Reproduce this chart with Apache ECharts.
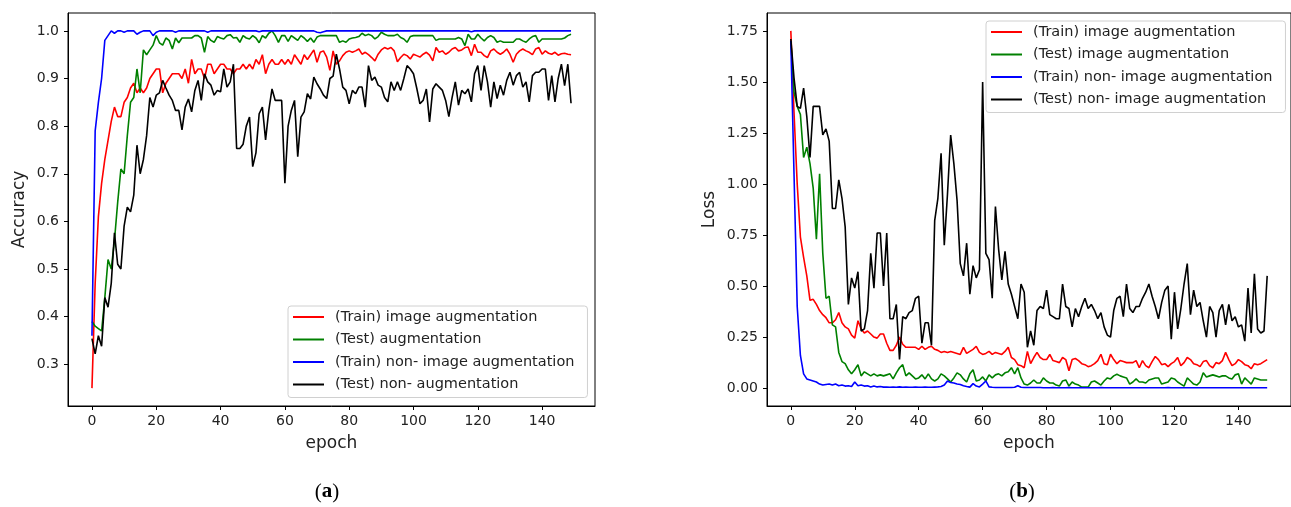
<!DOCTYPE html>
<html>
<head>
<meta charset="utf-8">
<script src="https://cdn.jsdelivr.net/npm/echarts@6/dist/echarts.min.js"></script>
<style>
  html, body { margin: 0; padding: 0; background: #fff; }
  #main { width: 1291px; height: 507px; }
</style>
</head>
<body>
<div id="main"></div>
<script>
// (a) accuracy per epoch
var accTrainAug = [
  0.25, 0.47, 0.61, 0.68, 0.73, 0.77, 0.81, 0.84, 0.82, 0.82,
  0.85, 0.86, 0.88, 0.89, 0.87, 0.88, 0.87, 0.88, 0.90, 0.91,
  0.92, 0.92, 0.87, 0.89, 0.90, 0.91, 0.91, 0.91, 0.90, 0.92,
  0.89, 0.94, 0.91, 0.92, 0.92, 0.90, 0.93, 0.93, 0.91, 0.92,
  0.93, 0.93, 0.92, 0.92, 0.91, 0.92, 0.92, 0.93, 0.92, 0.93,
  0.92, 0.94, 0.93, 0.95, 0.91, 0.93, 0.94, 0.93, 0.93, 0.94,
  0.93, 0.94, 0.93, 0.95, 0.94, 0.93, 0.95, 0.94, 0.95, 0.96,
  0.934, 0.955, 0.958, 0.945, 0.917, 0.958, 0.930, 0.937, 0.948, 0.955,
  0.958, 0.955, 0.958, 0.962, 0.951, 0.955, 0.950, 0.944, 0.937, 0.951,
  0.960, 0.965, 0.962, 0.965, 0.958, 0.935, 0.944, 0.951, 0.948, 0.941,
  0.951, 0.948, 0.945, 0.951, 0.955, 0.949, 0.937, 0.965, 0.955, 0.958,
  0.951, 0.955, 0.962, 0.965, 0.958, 0.960, 0.965, 0.966, 0.948, 0.972,
  0.955, 0.955, 0.948, 0.944, 0.958, 0.962, 0.955, 0.951, 0.955, 0.962,
  0.951, 0.934, 0.951, 0.958, 0.962, 0.958, 0.955, 0.950, 0.962, 0.965,
  0.951, 0.958, 0.953, 0.951, 0.955, 0.949, 0.952, 0.953, 0.951, 0.950
];
var accTestAug = [
  0.39, 0.38, 0.375, 0.37, 0.44, 0.52, 0.50, 0.56, 0.64, 0.71,
  0.70, 0.78, 0.85, 0.86, 0.92, 0.87, 0.96, 0.95, 0.96, 0.97,
  0.99, 0.975, 0.97, 0.985, 0.98, 0.962, 0.985, 0.975, 0.985, 0.985,
  0.985, 0.985, 0.99, 0.99, 0.985, 0.955, 0.988, 0.98, 0.976, 0.988,
  0.985, 0.983, 0.99, 0.992, 0.985, 0.986, 0.976, 0.99, 0.985, 0.983,
  0.99, 0.985, 0.975, 0.99, 0.985, 0.995, 1.0, 0.99, 0.976, 0.99,
  0.99, 0.978, 0.99, 0.985, 0.98, 0.99, 0.985, 0.978, 0.985, 0.976,
  0.987, 0.990, 0.990, 0.990, 0.990, 0.990, 0.990, 0.976, 0.979, 0.976,
  0.983, 0.985, 0.986, 0.988, 0.995, 0.990, 0.993, 0.990, 0.983, 0.988,
  0.997, 0.993, 0.990, 0.990, 0.990, 0.993, 0.986, 0.983, 0.976, 0.988,
  0.990, 0.990, 0.990, 0.990, 0.990, 0.990, 0.990, 0.980, 0.983, 0.983,
  0.983, 0.983, 0.983, 0.983, 0.986, 0.983, 0.969, 0.993, 0.983, 0.983,
  0.993, 0.985, 0.979, 0.986, 0.990, 0.986, 0.976, 0.979, 0.976, 0.976,
  0.976, 0.976, 0.983, 0.983, 0.979, 0.976, 0.983, 0.988, 0.990, 0.976,
  0.983, 0.983, 0.983, 0.983, 0.983, 0.983, 0.983, 0.985, 0.990, 0.993
];
var accTrainNon = [
  0.36, 0.79, 0.85, 0.90, 0.98, 0.99, 1.0, 0.995, 1.0, 1.0,
  0.997, 1.0, 1.0, 1.0, 0.993, 0.997, 1.0, 1.0, 1.0, 0.99,
  0.997, 1.0, 1.0, 1.0, 1.0, 1.0, 0.997, 1.0, 1.0, 1.0,
  1.0, 1.0, 1.0, 1.0, 1.0, 1.0, 0.997, 1.0, 1.0, 1.0,
  1.0, 1.0, 1.0, 1.0, 1.0, 1.0, 1.0, 1.0, 1.0, 1.0,
  1.0, 1.0, 0.998, 1.0, 1.0, 1.0, 1.0, 1.0, 1.0, 1.0,
  1.0, 1.0, 1.0, 1.0, 1.0, 1.0, 1.0, 1.0, 1.0, 1.0,
  0.997, 0.996, 0.998, 1.0, 1.0, 1.0, 1.0, 1.0, 1.0, 1.0,
  1.0, 1.0, 1.0, 1.0, 1.0, 1.0, 1.0, 1.0, 1.0, 1.0,
  1.0, 1.0, 1.0, 1.0, 1.0, 1.0, 1.0, 1.0, 1.0, 1.0,
  1.0, 1.0, 1.0, 1.0, 1.0, 1.0, 1.0, 1.0, 1.0, 1.0,
  1.0, 1.0, 1.0, 1.0, 1.0, 1.0, 1.0, 1.0, 0.998, 1.0,
  1.0, 1.0, 1.0, 1.0, 1.0, 1.0, 1.0, 1.0, 1.0, 1.0,
  1.0, 1.0, 1.0, 1.0, 1.0, 1.0, 1.0, 1.0, 1.0, 1.0,
  1.0, 1.0, 1.0, 1.0, 1.0, 1.0, 1.0, 1.0, 1.0, 1.0
];
var accTestNon = [
  0.354, 0.322, 0.36, 0.338, 0.44, 0.42, 0.47, 0.576, 0.51, 0.50,
  0.59, 0.63, 0.62, 0.655, 0.76, 0.70, 0.73, 0.78, 0.86, 0.84,
  0.865, 0.87, 0.896, 0.88, 0.865, 0.854, 0.833, 0.833, 0.792, 0.84,
  0.857, 0.83, 0.875, 0.896, 0.854, 0.91, 0.893, 0.886, 0.865, 0.875,
  0.872, 0.92, 0.882, 0.893, 0.93, 0.753, 0.753, 0.762, 0.80, 0.819,
  0.715, 0.744, 0.826, 0.84, 0.771, 0.833, 0.878, 0.854, 0.854, 0.854,
  0.68, 0.80, 0.833, 0.854, 0.736, 0.819, 0.83, 0.868, 0.857, 0.903,
  0.889, 0.878, 0.865, 0.858, 0.90, 0.905, 0.951, 0.92, 0.882, 0.875,
  0.847, 0.875, 0.868, 0.882, 0.882, 0.84, 0.927, 0.896, 0.903, 0.886,
  0.882, 0.86, 0.851, 0.893, 0.875, 0.893, 0.875, 0.90, 0.927, 0.92,
  0.91, 0.88, 0.847, 0.854, 0.878, 0.809, 0.878, 0.889, 0.882, 0.875,
  0.854, 0.82, 0.86, 0.893, 0.844, 0.875, 0.868, 0.878, 0.851, 0.91,
  0.927, 0.875, 0.927, 0.893, 0.84, 0.893, 0.858, 0.886, 0.865, 0.896,
  0.913, 0.886, 0.906, 0.913, 0.882, 0.893, 0.851, 0.906, 0.913, 0.913,
  0.92, 0.92, 0.854, 0.906, 0.851, 0.90, 0.93, 0.885, 0.93, 0.848
];

// (b) loss per epoch
var lossTrainAug = [
  1.75, 1.35, 1.0, 0.74, 0.64, 0.55, 0.43, 0.435, 0.41, 0.38,
  0.36, 0.345, 0.32, 0.32, 0.335, 0.37, 0.32, 0.30, 0.29, 0.26,
  0.245, 0.33, 0.29, 0.27, 0.28, 0.265, 0.25, 0.245, 0.265, 0.265,
  0.22, 0.185, 0.185, 0.21, 0.25, 0.215, 0.20, 0.20, 0.20, 0.20,
  0.19, 0.205, 0.19, 0.20, 0.205, 0.19, 0.185, 0.175, 0.18, 0.175,
  0.18, 0.175, 0.17, 0.165, 0.20, 0.17, 0.18, 0.19, 0.205, 0.175,
  0.165, 0.17, 0.18, 0.165, 0.175, 0.17, 0.165, 0.18, 0.20, 0.15,
  0.14, 0.115, 0.11, 0.10, 0.18, 0.12, 0.15, 0.175, 0.15, 0.14,
  0.14, 0.165, 0.135, 0.13, 0.125, 0.15, 0.14, 0.085, 0.14, 0.145,
  0.135, 0.12, 0.115, 0.105, 0.11, 0.12, 0.135, 0.166, 0.12, 0.115,
  0.166, 0.14, 0.12, 0.135, 0.13, 0.125, 0.125, 0.125, 0.135, 0.10,
  0.135, 0.11, 0.10, 0.13, 0.155, 0.14, 0.115, 0.12, 0.105, 0.12,
  0.13, 0.15, 0.11, 0.125, 0.15, 0.14, 0.12, 0.115, 0.105, 0.13,
  0.135, 0.11, 0.10, 0.125, 0.12, 0.135, 0.175, 0.14, 0.11, 0.12,
  0.14, 0.13, 0.115, 0.11, 0.095, 0.12, 0.115, 0.12, 0.13, 0.14
];
var lossTestAug = [
  1.70, 1.45, 1.38, 1.34, 1.13, 1.18, 1.10, 0.98, 0.73, 1.05,
  0.66, 0.44, 0.45, 0.31, 0.30, 0.175, 0.13, 0.12, 0.09, 0.07,
  0.09, 0.115, 0.06, 0.08, 0.07, 0.06, 0.07, 0.06, 0.065, 0.06,
  0.065, 0.07, 0.045, 0.075, 0.10, 0.115, 0.06, 0.075, 0.06, 0.045,
  0.05, 0.065, 0.045, 0.07, 0.045, 0.035, 0.045, 0.07, 0.06, 0.045,
  0.03, 0.05, 0.075, 0.065, 0.045, 0.03, 0.07, 0.09, 0.035, 0.04,
  0.055, 0.035, 0.065, 0.05, 0.065, 0.07, 0.06, 0.075, 0.08, 0.10,
  0.07, 0.10, 0.05, 0.02, 0.015, 0.025, 0.04, 0.025, 0.025, 0.05,
  0.035, 0.025, 0.025, 0.015, 0.01, 0.035, 0.04, 0.01, 0.03, 0.02,
  0.015, 0.005, 0.005, 0.005, 0.03, 0.035, 0.025, 0.015, 0.035, 0.05,
  0.045, 0.06, 0.068, 0.06, 0.055, 0.05, 0.02, 0.03, 0.045, 0.03,
  0.03, 0.025, 0.04, 0.045, 0.05, 0.05, 0.02, 0.025, 0.03, 0.05,
  0.045, 0.03, 0.02, 0.01, 0.05, 0.035, 0.02, 0.015, 0.03, 0.075,
  0.055, 0.06, 0.065, 0.06, 0.055, 0.06, 0.06, 0.05, 0.045, 0.065,
  0.07, 0.02, 0.05, 0.035, 0.02, 0.05, 0.045, 0.04, 0.04, 0.04
];
var lossTrainNon = [
  1.70, 1.05, 0.40, 0.16, 0.07, 0.045, 0.04, 0.035, 0.03, 0.02,
  0.015, 0.018, 0.02, 0.015, 0.02, 0.012, 0.015, 0.01, 0.012, 0.008,
  0.03, 0.012, 0.015, 0.01, 0.012, 0.006, 0.01, 0.006, 0.008, 0.005,
  0.005, 0.004, 0.005, 0.004, 0.006, 0.004, 0.005, 0.004, 0.004, 0.005,
  0.004, 0.004, 0.005, 0.004, 0.004, 0.005, 0.006, 0.008, 0.015, 0.035,
  0.028, 0.025, 0.02, 0.018, 0.012, 0.008, 0.005, 0.022, 0.01, 0.006,
  0.02, 0.035, 0.006, 0.004, 0.003, 0.003, 0.003, 0.003, 0.003, 0.003,
  0.004, 0.012, 0.004, 0.003, 0.003, 0.003, 0.003, 0.003, 0.003, 0.002,
  0.002, 0.002, 0.003, 0.002, 0.002, 0.002, 0.002, 0.003, 0.002, 0.002,
  0.002, 0.002, 0.002, 0.002, 0.002, 0.002, 0.002, 0.003, 0.002, 0.002,
  0.002, 0.002, 0.002, 0.002, 0.002, 0.002, 0.002, 0.002, 0.002, 0.002,
  0.002, 0.002, 0.002, 0.002, 0.002, 0.002, 0.002, 0.002, 0.003, 0.002,
  0.002, 0.002, 0.002, 0.002, 0.002, 0.002, 0.002, 0.002, 0.002, 0.002,
  0.002, 0.002, 0.002, 0.002, 0.002, 0.002, 0.002, 0.002, 0.002, 0.002,
  0.002, 0.002, 0.002, 0.002, 0.002, 0.002, 0.002, 0.002, 0.002, 0.002
];
var lossTestNon = [
  1.71, 1.52, 1.38, 1.37, 1.47, 1.33, 1.13, 1.38, 1.38, 1.38,
  1.24, 1.27, 1.21, 0.88, 0.88, 1.02, 0.93, 0.79, 0.41, 0.54,
  0.49, 0.57, 0.28, 0.29, 0.38, 0.66, 0.49, 0.76, 0.76, 0.50,
  0.76, 0.34, 0.34, 0.41, 0.14, 0.35, 0.34, 0.37, 0.38, 0.44,
  0.45, 0.22, 0.32, 0.32, 0.21, 0.82, 0.93, 1.15, 0.70, 0.95,
  1.24, 1.10, 0.92, 0.61, 0.55, 0.71, 0.46, 0.60, 0.54, 0.58,
  1.50, 0.66, 0.63, 0.44, 0.89, 0.68, 0.53, 0.67, 0.51, 0.46,
  0.40, 0.34, 0.51, 0.47, 0.20, 0.28, 0.21, 0.38, 0.40, 0.39,
  0.48, 0.36, 0.35, 0.34, 0.34, 0.51, 0.40, 0.39, 0.30, 0.39,
  0.35, 0.40, 0.44, 0.39, 0.41, 0.38, 0.34, 0.37, 0.30, 0.26,
  0.25, 0.38, 0.44, 0.45, 0.35, 0.51, 0.39, 0.37, 0.40, 0.40,
  0.44, 0.47, 0.51, 0.45, 0.40, 0.34, 0.42, 0.48, 0.50, 0.24,
  0.47, 0.29, 0.39, 0.51, 0.61, 0.36, 0.48, 0.40, 0.42, 0.33,
  0.25, 0.40, 0.37, 0.25, 0.38, 0.41, 0.31, 0.41, 0.33, 0.35,
  0.30, 0.31, 0.23, 0.49, 0.27, 0.56, 0.29, 0.27, 0.28, 0.55
];

var epochTicks = [0, 20, 40, 60, 80, 100, 120, 140];
var accTicks = [0.3, 0.4, 0.5, 0.6, 0.7, 0.8, 0.9, 1.0];
var lossTicks = [0, 0.25, 0.5, 0.75, 1.0, 1.25, 1.5, 1.75];

var accNames = ['(Train) image augmentation', '(Test) augmentation',
  '(Train) non- image augmentation', '(Test) non- augmentation'];
var lossNames = ['(Train) image augmentation', '(Test) image augmentation',
  '(Train) non- image augmentation', '(Test) non- image augmentation'];
var colors = ['#ff0000', '#008000', '#0000ff', '#000000'];

onload = function () {
    var font = 'DejaVu Sans';
    var myChart = echarts.init(document.getElementById('main'));

    function pairs(arr) {
        return arr.map(function (v, i) { return [i, v]; });
    }

    function line(name, arr, idx, k) {
        return {
            name: name,
            type: 'line',
            xAxisIndex: idx,
            yAxisIndex: idx,
            symbol: 'none',
            silent: true,
            lineStyle: { color: colors[k], width: 1.6 },
            itemStyle: { color: colors[k] },
            data: pairs(arr)
        };
    }

    function xAxis(idx) {
        return {
            gridIndex: idx,
            type: 'value',
            min: -7.45,
            max: 156.45,
            name: 'epoch',
            nameLocation: 'middle',
            nameGap: 29,
            nameTextStyle: { fontFamily: font, fontSize: 17, color: '#222' },
            axisLine: { show: true, onZero: false, lineStyle: { color: '#000', width: 1 } },
            axisTick: { show: true, length: 4, customValues: epochTicks, lineStyle: { color: '#000' } },
            axisLabel: { customValues: epochTicks, margin: 8, fontFamily: font, fontSize: 14, color: '#222' },
            splitLine: { show: false }
        };
    }

    function yAxis(idx, name, min, max, ticks, digits, gap) {
        return {
            gridIndex: idx,
            type: 'value',
            min: min,
            max: max,
            name: name,
            nameLocation: 'middle',
            nameRotate: 90,
            nameGap: gap,
            nameTextStyle: { fontFamily: font, fontSize: 17, color: '#222' },
            axisLine: { show: true, onZero: false, lineStyle: { color: '#000', width: 1 } },
            axisTick: { show: true, length: 4, customValues: ticks, lineStyle: { color: '#000' } },
            axisLabel: {
                customValues: ticks, margin: 9, fontFamily: font, fontSize: 14, color: '#222',
                formatter: function (v) { return Number(v).toFixed(digits); }
            },
            splitLine: { show: false }
        };
    }

    function legend(names, left, top) {
        return {
            data: names,
            left: left,
            top: top,
            orient: 'vertical',
            selectedMode: false,
            icon: 'rect',
            itemWidth: 31,
            itemHeight: 2,
            itemGap: 6.5,
            padding: [3, 13, 5, 5],
            borderColor: '#d0d0d0',
            borderWidth: 1,
            borderRadius: 3,
            backgroundColor: 'rgba(255,255,255,0.8)',
            textStyle: { fontFamily: font, fontSize: 14.5, color: '#222', lineHeight: 16, padding: [0, 0, 0, 6] }
        };
    }

    function caption(letter, x) {
        return {
            type: 'text',
            x: x,
            y: 492,
            style: {
                text: '{p|(}{b|' + letter + '}{p|)}',
                align: 'center',
                verticalAlign: 'middle',
                rich: {
                    p: { fontFamily: 'Liberation Serif', fontSize: 21, fill: '#000' },
                    b: { fontFamily: 'Liberation Serif', fontSize: 21, fontWeight: 'bold', fill: '#000' }
                }
            }
        };
    }

    var series = [];
    [accTrainAug, accTestAug, accTrainNon, accTestNon].forEach(function (arr, k) {
        series.push(line(accNames[k], arr, 0, k));
    });
    [lossTrainAug, lossTestAug, lossTrainNon, lossTestNon].forEach(function (arr, k) {
        series.push(line(lossNames[k], arr, 1, k));
    });

    myChart.setOption({
        backgroundColor: '#fff',
        animation: false,
        grid: [
            { left: 68, top: 13, width: 527, height: 393, show: true, borderColor: '#000', borderWidth: 1 },
            { left: 767, top: 13, width: 526, height: 393, show: true, borderColor: '#000', borderWidth: 1 }
        ],
        xAxis: [xAxis(0), xAxis(1)],
        yAxis: [
            yAxis(0, 'Accuracy', 0.2125, 1.0375, accTicks, 1, 40),
            yAxis(1, 'Loss', -0.0875, 1.8375, lossTicks, 2, 49)
        ],
        legend: [legend(accNames, 288, 306), legend(lossNames, 986, 21)],
        graphic: [caption('a', 327), caption('b', 1022)],
        series: series
    });
};
</script>
</body>
</html>
